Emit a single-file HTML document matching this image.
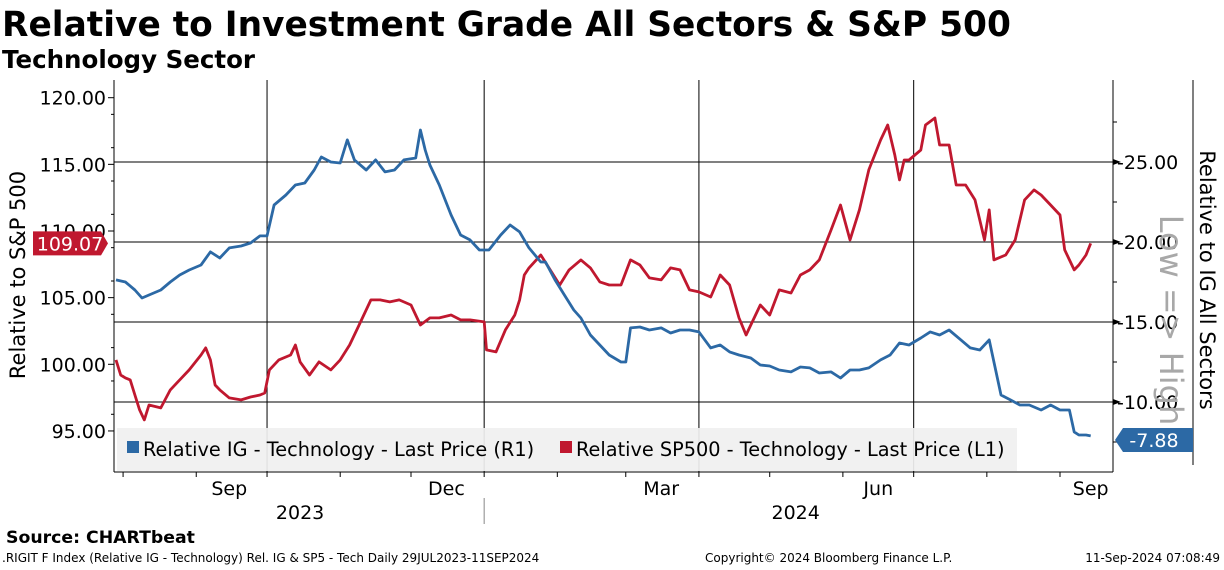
<!DOCTYPE html>
<html><head><meta charset="utf-8"><style>
body{margin:0;background:#fff;width:1224px;height:566px;overflow:hidden;font-family:"DejaVu Sans","Liberation Sans",sans-serif}
svg text{font-family:"DejaVu Sans","Liberation Sans",sans-serif}
</style></head><body>
<svg id="c" width="1224" height="566">
<text x="2" y="36" font-size="34.4" font-weight="bold">Relative to Investment Grade All Sectors &amp; S&amp;P 500</text>
<text x="2" y="68" font-size="24.5" font-weight="bold">Technology Sector</text>
<g id="grid"></g>
<rect x="117" y="428" width="900" height="43" fill="#f0f0f0" opacity="0.92"/>
<g id="series"></g>
<g id="axes"></g>
<g font-size="19.3">
<rect x="127" y="441" width="12" height="12" fill="#2c69a5"/>
<text x="143" y="456">Relative IG - Technology - Last Price (R1)</text>
<rect x="560" y="441" width="12" height="12" fill="#c0182f"/>
<text x="576" y="456">Relative SP500 - Technology - Last Price (L1)</text>
</g>
<text transform="translate(25,275) rotate(-90)" text-anchor="middle" font-size="21">Relative to S&amp;P 500</text>
<text transform="translate(1200,280) rotate(90)" text-anchor="middle" font-size="21">Relative to IG All Sectors</text>
<text transform="translate(1160,320) rotate(90)" text-anchor="middle" font-size="32" fill="#a8a8a8">Low =&gt; High</text>
<text x="6" y="543" font-size="17.3" font-weight="bold">Source: CHARTbeat</text>
<text x="2" y="562" font-size="12">.RIGIT F Index (Relative IG - Technology) Rel. IG &amp; SP5 - Tech  Daily 29JUL2023-11SEP2024</text>
<text x="705" y="562" font-size="12">Copyright© 2024 Bloomberg Finance L.P.</text>
<text x="1220" y="562" font-size="12" text-anchor="end">11-Sep-2024 07:08:49</text>
</svg>
<script>
const igDays=[0,4,8,11,14,19,23,27,31,36,40,44,48,53,57,61,64,67,72,76,80,84,87,91,95,98,101,106,110,114,118,122,127,129,131,133,137,142,146,150,154,158,163,167,171,175,180,182,186,190,194,197,201,205,209,214,216,218,222,226,231,235,239,243,247,252,256,260,264,269,273,277,281,286,290,294,298,303,307,311,315,319,324,328,332,336,341,345,349,353,358,362,366,370,375,379,383,387,392,396,400,404,406,408,411,413];
const igValues=[17.63,17.5,17.0,16.5,16.69,17.0,17.5,17.94,18.25,18.56,19.38,19.0,19.63,19.75,19.94,20.38,20.38,22.31,22.94,23.56,23.69,24.5,25.31,25.0,24.94,26.38,25.13,24.5,25.13,24.38,24.5,25.13,25.25,27.0,25.75,24.81,23.56,21.69,20.44,20.13,19.5,19.5,20.44,21.06,20.63,19.63,18.75,18.75,17.63,16.69,15.75,15.25,14.19,13.56,12.94,12.5,12.5,14.63,14.69,14.5,14.63,14.31,14.5,14.5,14.38,13.38,13.56,13.13,12.94,12.75,12.31,12.25,12.0,11.88,12.19,12.13,11.81,11.88,11.5,12.0,12.0,12.13,12.63,12.94,13.69,13.56,14.0,14.38,14.19,14.5,13.88,13.38,13.25,13.88,10.44,10.13,9.81,9.81,9.5,9.81,9.5,9.5,8.13,7.94,7.94,7.88];
const spDays=[0,2,4,6,8,10,12,14,19,23,27,31,36,38,40,42,44,48,53,57,61,63,65,69,74,76,78,82,86,91,95,99,103,108,112,116,120,125,129,133,137,142,146,150,156,157,161,165,169,171,173,175,180,184,188,192,197,201,205,209,214,218,222,226,231,235,239,243,247,252,256,260,264,267,269,273,277,281,286,290,294,298,303,307,311,315,319,324,327,330,332,334,336,341,343,347,349,353,356,360,364,368,370,372,377,381,385,389,392,396,400,402,406,408,411,413];
const spValues=[100.33,99.2,98.98,98.83,97.7,96.58,95.83,96.95,96.73,98.08,98.83,99.58,100.7,101.23,100.33,98.45,98.08,97.48,97.33,97.55,97.7,97.85,99.58,100.33,100.7,101.45,100.18,99.2,100.18,99.58,100.33,101.45,102.95,104.83,104.83,104.68,104.83,104.45,102.95,103.48,103.48,103.7,103.33,103.33,103.18,101.08,100.93,102.58,103.7,104.83,106.7,107.23,108.2,107.08,105.95,107.08,107.83,107.23,106.18,105.95,105.95,107.83,107.45,106.48,106.33,107.23,107.08,105.58,105.43,105.05,106.7,105.95,103.48,102.2,102.95,104.45,103.7,105.58,105.35,106.7,107.08,107.83,110.08,111.95,109.33,111.58,114.58,116.83,117.95,115.7,113.83,115.33,115.33,116.08,117.95,118.48,116.45,116.45,113.45,113.45,112.33,109.33,111.58,107.83,108.2,109.33,112.33,113.08,112.7,111.95,111.2,108.58,107.08,107.45,108.2,109.07];
const leftTicks=[120,115,110,105,100,95];
const rightTicks=[25,20,15,10];
const monthLabels=["Sep","Dec","Mar","Jun","Sep"];
const monthLabelDays=[48,140,231,323,413];
const quarterDays=[64,156,247,338];
const monthTickDays=[3,34,64,95,125,156,187,216,247,277,308,338,369,400];
const yearLabels=["2023","2024"];
const yearLabelDays=[78,288];

const L=114,R=1113,T=80,B=472;
const x=d=>116+d*2.36;
const yL=v=>231+(110-v)*13.33;
const yR=v=>242+(20-v)*16;
const NS="http://www.w3.org/2000/svg";
function mk(tag,attrs,parent){const e=document.createElementNS(NS,tag);for(const k in attrs)e.setAttribute(k,attrs[k]);parent.appendChild(e);return e;}
const grid=document.getElementById('grid'),ser=document.getElementById('series'),ax=document.getElementById('axes');
rightTicks.forEach(v=>{const l=mk('line',{x1:L,x2:R,y1:yR(v),y2:yR(v),stroke:'#000','stroke-width':1},grid);

});
quarterDays.forEach(d=>{const l=mk('line',{x1:x(d),x2:x(d),y1:T,y2:B,stroke:'#000','stroke-width':1},grid);

});
function path(days,vals,fy,color,name){
 const p=mk('path',{d:days.map((d,i)=>(i?'L':'M')+x(d).toFixed(1)+','+fy(vals[i]).toFixed(1)).join(''),fill:'none',stroke:color,'stroke-width':2.8,'stroke-linejoin':'round'},ser);
 
 
}
path(spDays,spValues,yL,'#c0182f','sp500-line');
path(igDays,igValues,yR,'#2c69a5','ig-line');
mk('line',{x1:L,x2:L,y1:T,y2:B,stroke:'#000'},ax);
mk('line',{x1:R,x2:R,y1:T,y2:B,stroke:'#000'},ax);
mk('line',{x1:L,x2:R,y1:B,y2:B,stroke:'#000'},ax);
mk('line',{x1:1193,x2:1193,y1:80,y2:465,stroke:'#000'},ax);
leftTicks.forEach(v=>{mk('line',{x1:L-6,x2:L,y1:yL(v),y2:yL(v),stroke:'#000'},ax);
 const t=mk('text',{x:L-8,y:yL(v)+7,'text-anchor':'end','font-size':19},ax);t.textContent=v.toFixed(2);
 
 });
[96.25,98.75,101.25,103.75,106.25,108.75,111.25,113.75,116.25,118.75].forEach(v=>mk('line',{x1:L-3,x2:L,y1:yL(v),y2:yL(v),stroke:'#000'},ax));
rightTicks.forEach(v=>{mk('path',{d:`M${R} ${yR(v)-3}L${R+8} ${yR(v)}L${R} ${yR(v)+3}Z`,fill:'#000'},ax);
 const t=mk('text',{x:R+4,y:yR(v)+7,'font-size':19},ax);t.textContent='-'+v.toFixed(2);
 
 });
[7.5,12.5,17.5,22.5,27.5].forEach(v=>mk('line',{x1:R,x2:R+4,y1:yR(v),y2:yR(v),stroke:'#000'},ax));
monthTickDays.forEach(d=>mk('line',{x1:x(d),x2:x(d),y1:B,y2:B+5,stroke:'#000'},ax));
monthLabels.forEach((m,i)=>{const t=mk('text',{x:x(monthLabelDays[i]),y:495,'text-anchor':'middle','font-size':19},ax);t.textContent=m;
 
 });
yearLabels.forEach((m,i)=>{const t=mk('text',{x:x(yearLabelDays[i]),y:519,'text-anchor':'middle','font-size':19},ax);t.textContent=m;
 
 });
mk('line',{x1:x(156),x2:x(156),y1:498,y2:524,stroke:'#888'},ax);
const ly=yL(spValues[spValues.length-1]);
mk('path',{d:`M33 ${ly-12}H101L108 ${ly}L101 ${ly+12}H33Z`,fill:'#c0182f'},ax);
let t=mk('text',{x:70,y:ly+7,'text-anchor':'middle','font-size':19,fill:'#fff'},ax);t.textContent=spValues[spValues.length-1].toFixed(2);


const ry=440;
mk('path',{d:`M1123 ${ry-12}H1193V${ry+12}H1123L1115 ${ry}Z`,fill:'#2c69a5'},ax);
t=mk('text',{x:1154,y:ry+7,'text-anchor':'middle','font-size':19,fill:'#fff'},ax);t.textContent='-'+igValues[igValues.length-1].toFixed(2);


</script>
</body></html>
